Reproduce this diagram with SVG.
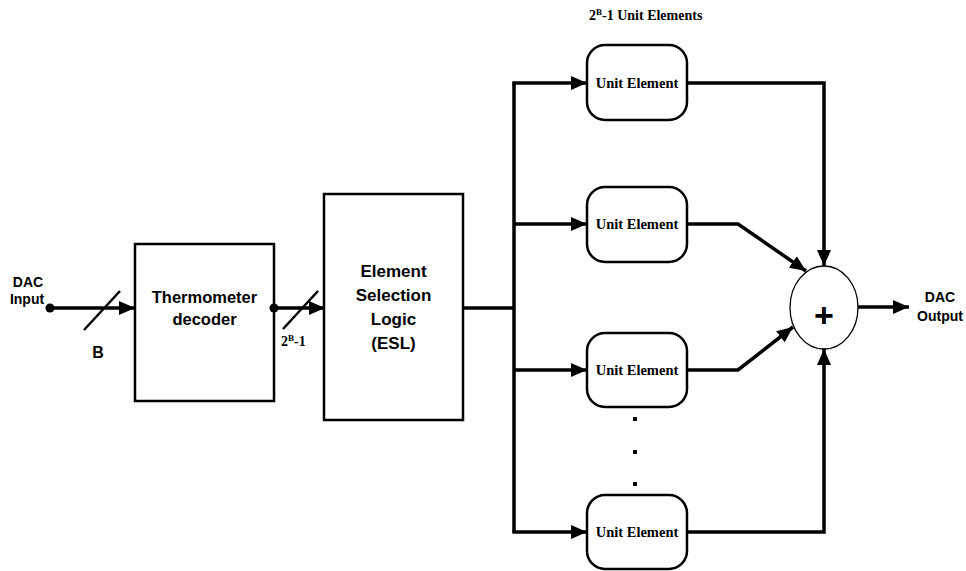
<svg xmlns="http://www.w3.org/2000/svg" width="966" height="571" viewBox="0 0 966 571">
<style>
.box{fill:#fff;stroke:#000;stroke-width:2.5}
.ue{fill:#fff;stroke:#000;stroke-width:2.5}
.ln{fill:none;stroke:#000;stroke-width:3.5}
.thin{fill:none;stroke:#000;stroke-width:2.5}
.sans{font-family:"Liberation Sans",Arial,sans-serif;font-weight:bold;fill:#000}
.serif{font-family:"Liberation Serif","Times New Roman",serif;font-weight:bold;fill:#000}
</style>
<defs>
<marker id="ah" markerUnits="userSpaceOnUse" markerWidth="16" markerHeight="16" viewBox="0 0 16 16" refX="16" refY="8" orient="auto">
<path d="M0,1 L16,8 L0,15 Z" fill="#000"/>
</marker>
</defs>
<rect width="966" height="571" fill="#fff"/>

<g id="dac-input">
<text class="sans" font-size="14" x="28" y="287" text-anchor="middle">DAC</text>
<text class="sans" font-size="14" x="27" y="304" text-anchor="middle">Input</text>
</g>
<g id="label-b">
<text class="sans" font-size="16" x="98" y="358" text-anchor="middle">B</text>
</g>
<g id="label-2b1">
<text class="serif" font-size="14" x="281" y="346">2<tspan font-size="9" dy="-5">B</tspan><tspan dy="5">-1</tspan></text>
</g>

<g id="thermometer">
<rect class="box" x="135" y="244" width="139" height="157"/>
<text class="sans" font-size="16.5" x="204.5" y="303" text-anchor="middle">Thermometer</text>
<text class="sans" font-size="16.5" x="204.5" y="325" text-anchor="middle">decoder</text>
</g>

<g id="esl">
<rect class="box" x="324" y="194" width="139" height="226"/>
<text class="sans" font-size="17" x="393.5" y="277" text-anchor="middle">Element</text>
<text class="sans" font-size="17" x="393.5" y="301" text-anchor="middle">Selection</text>
<text class="sans" font-size="17" x="393.5" y="325" text-anchor="middle">Logic</text>
<text class="sans" font-size="17" x="393.5" y="349" text-anchor="middle">(ESL)</text>
</g>

<g id="title">
<text class="serif" font-size="14" x="589" y="20">2<tspan font-size="9" dy="-5">B</tspan><tspan dy="5">-1 Unit Elements</tspan></text>
</g>

<g id="ue1">
<rect class="ue" x="587" y="45" width="100" height="75" rx="18"/>
<text class="serif" font-size="14.5" x="637" y="88" text-anchor="middle">Unit Element</text>
</g>
<g id="ue2">
<rect class="ue" x="587" y="187" width="100" height="75" rx="18"/>
<text class="serif" font-size="14.5" x="637" y="229" text-anchor="middle">Unit Element</text>
</g>
<g id="ue3">
<rect class="ue" x="587" y="333" width="100" height="74" rx="18"/>
<text class="serif" font-size="14.5" x="637" y="375" text-anchor="middle">Unit Element</text>
</g>
<g id="dots">
<rect x="633" y="417" width="4" height="4" fill="#000"/>
<rect x="633" y="450" width="4" height="4" fill="#000"/>
<rect x="633" y="482" width="4" height="4" fill="#000"/>
</g>
<g id="ue4">
<rect class="ue" x="587" y="495" width="100" height="74" rx="18"/>
<text class="serif" font-size="14.5" x="637" y="537" text-anchor="middle">Unit Element</text>
</g>

<g id="sum">
<ellipse cx="824" cy="307.5" rx="34" ry="41.5" fill="#fff" stroke="#000" stroke-width="1.3"/>
<text class="sans" font-size="34" x="824" y="327" text-anchor="middle">+</text>
</g>

<g id="dac-output">
<text class="sans" font-size="14" x="940" y="302" text-anchor="middle">DAC</text>
<text class="sans" font-size="14" x="940" y="321" text-anchor="middle">Output</text>
</g>

<g id="connectors">
<path class="ln" d="M50,308 L135,308" marker-end="url(#ah)"/>
<path class="thin" d="M84,330 L120,291"/>
<circle cx="50" cy="308" r="4.5" fill="#000"/>
<path class="ln" d="M274,308 L325,308" marker-end="url(#ah)"/>
<path class="thin" d="M283,329 L318,291"/>
<circle cx="274" cy="308" r="4.5" fill="#000"/>
<path class="ln" d="M464,308 L514,308"/>
<path class="ln" d="M514,83 L514,532"/>
<path class="ln" d="M512.25,83 L587,83" marker-end="url(#ah)"/>
<path class="ln" d="M514,224 L587,224" marker-end="url(#ah)"/>
<path class="ln" d="M514,370 L587,370" marker-end="url(#ah)"/>
<path class="ln" d="M512.25,532 L587,532" marker-end="url(#ah)"/>
<path class="ln" d="M688,83 L824,83 L824,266" marker-end="url(#ah)"/>
<path class="ln" d="M688,224 L738,224 L806,271" marker-end="url(#ah)"/>
<path class="ln" d="M688,370 L738,370 L793,327" marker-end="url(#ah)"/>
<path class="ln" d="M688,532 L824,532 L824,349" marker-end="url(#ah)"/>
<path class="ln" d="M858,307 L909,307" marker-end="url(#ah)"/>
</g>
</svg>
